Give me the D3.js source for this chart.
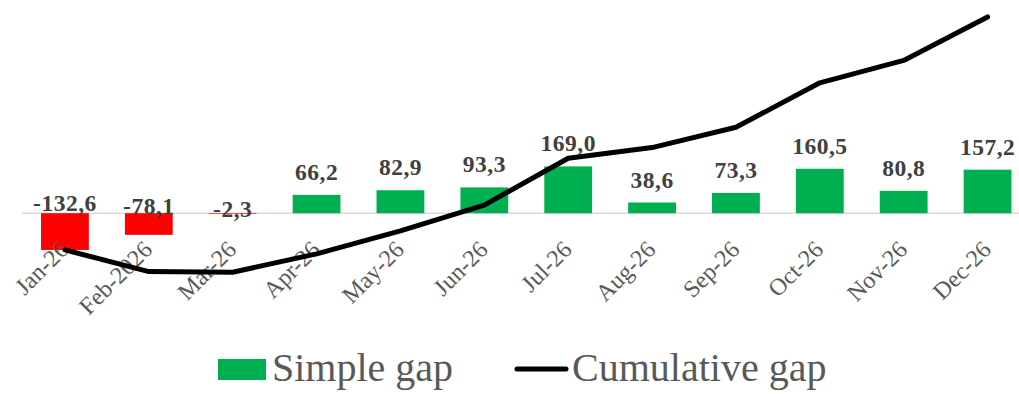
<!DOCTYPE html>
<html>
<head>
<meta charset="utf-8">
<script src="https://cdn.jsdelivr.net/npm/d3@7"></script>
<style>
  body { margin: 0; background: #fff; }
  svg { display: block; }
</style>
</head>
<body>
<svg width="1019" height="394"></svg>
<script>
// chart data
const months = ["Jan-26", "Feb-2026", "Mar-26", "Apr-26", "May-26", "Jun-26",
    "Jul-26", "Aug-26", "Sep-26", "Oct-26", "Nov-26", "Dec-26"];
const simpleGap = [-132.6, -78.1, -2.3, 66.2, 82.9, 93.3, 169.0, 38.6, 73.3, 160.5, 80.8, 157.2];
const cumulativeGap = [-132.6, -210.7, -213.0, -146.8, -63.9, 29.4, 198.4, 237.0, 310.3, 470.8, 551.6, 708.8];
const legendLabels = ["Simple gap", "Cumulative gap"];

const svg = d3.select("svg");
const serif = "'Liberation Serif', 'Times New Roman', serif";

const x = d3.scaleBand()
    .domain(months)
    .range([23, 1029.5])
    .paddingInner(0.43)
    .paddingOuter(0.215);

const y = d3.scaleLinear()
    .domain([-200, 750])
    .range([268.6, 5.5]);

const fmt = v => v.toFixed(1).replace(".", ",");

// zero line
svg.append("line")
    .attr("x1", 22)
    .attr("x2", 1019)
    .attr("y1", y(0))
    .attr("y2", y(0))
    .attr("stroke", "#d9d9d9")
    .attr("stroke-width", 1.5);

// bars
svg.selectAll(".bar")
    .data(simpleGap)
    .enter()
    .append("rect")
    .attr("class", "bar")
    .attr("x", (d, i) => x(months[i]))
    .attr("width", x.bandwidth())
    .attr("y", d => y(Math.max(0, d)))
    .attr("height", d => Math.abs(y(d) - y(0)))
    .attr("fill", d => d < 0 ? "#ff0000" : "#00b050");

// x labels
svg.selectAll(".xlab")
    .data(months)
    .enter()
    .append("text")
    .attr("class", "xlab")
    .attr("transform", d => "translate(" + (x(d) + x.bandwidth() / 2 + 5) + "," + 251 + ") rotate(-45)")
    .attr("text-anchor", "end")
    .attr("font-family", serif)
    .attr("font-size", "24px")
    .attr("fill", "#595959")
    .text(d => d);

// cumulative line
const line = d3.line()
    .x((d, i) => x(months[i]) + x.bandwidth() / 2)
    .y(d => y(d));

svg.append("path")
    .datum(cumulativeGap)
    .attr("d", line)
    .attr("fill", "none")
    .attr("stroke", "#000")
    .attr("stroke-width", 5)
    .attr("stroke-linejoin", "round")
    .attr("stroke-linecap", "round");

// value labels
svg.selectAll(".vlab")
    .data(simpleGap)
    .enter()
    .append("text")
    .attr("class", "vlab")
    .attr("x", (d, i) => x(months[i]) + x.bandwidth() / 2)
    .attr("y", d => d >= 0 ? y(d) - 15 : y(0) + 4 + d * 0.045)
    .attr("text-anchor", "middle")
    .attr("font-family", serif)
    .attr("font-weight", "bold")
    .attr("font-size", "23.5px")
    .attr("letter-spacing", "0.5px")
    .attr("fill", "#404040")
    .text(d => fmt(d));

// legend
const lg = svg.append("g");
lg.append("rect")
    .attr("x", 218).attr("y", 359)
    .attr("width", 48).attr("height", 21)
    .attr("fill", "#00b050");
lg.append("text")
    .attr("x", 272).attr("y", 381)
    .attr("font-family", serif)
    .attr("font-size", "40px")
    .attr("fill", "#595959")
    .text(legendLabels[0]);
lg.append("line")
    .attr("x1", 517).attr("x2", 566)
    .attr("y1", 369).attr("y2", 369)
    .attr("stroke", "#000")
    .attr("stroke-width", 5)
    .attr("stroke-linecap", "round");
lg.append("text")
    .attr("x", 572).attr("y", 381)
    .attr("font-family", serif)
    .attr("font-size", "40px")
    .attr("fill", "#595959")
    .text(legendLabels[1]);
</script>
</body>
</html>
